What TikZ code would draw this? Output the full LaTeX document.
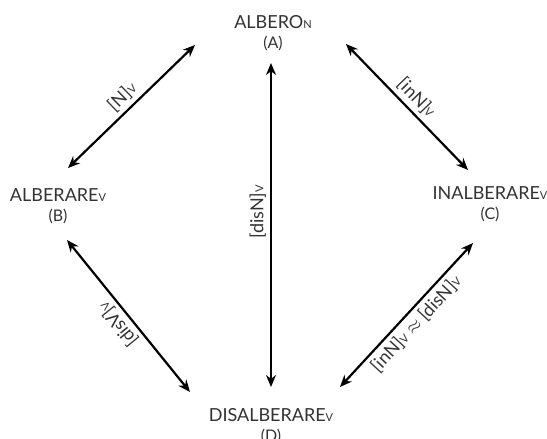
\documentclass[tikz,border=0pt]{standalone}
\usepackage{fontspec}
\setmainfont{Lato}
\usepackage{tikz}
\usetikzlibrary{positioning, arrows.meta}
\newcommand{\sub}[1]{{\fontsize{5.5}{6}\selectfont #1}}

\begin{document}
\begin{tikzpicture}[x=0.5pt,y=-0.5pt,>={Stealth[length=6pt,width=5pt]},
        word/.style={inner sep=0pt, text=black!80, font=\fontsize{9}{11}\selectfont},
        tag/.style={inner sep=0pt, text=black!80, font=\fontsize{8}{9}\selectfont},
        rel/.style={<->, line width=1.1pt},
        lab/.style={inner sep=2pt, text=black!80, font=\fontsize{9}{11}\selectfont}]
        \useasboundingbox (0,0) rectangle (547,439);
        \node[word] (A) at (273,22) {ALBERO\sub{N}};
        \node[tag, below=3.5pt of A] (a) {(A)};
        \node[word] (B) at (58,195) {ALBERARE\sub{V}};
        \node[tag, below=3.5pt of B] (b) {(B)};
        \node[word] (C) at (490,193) {INALBERARE\sub{V}};
        \node[tag, below=3.5pt of C] (c) {(C)};
        \node[word] (D) at (271,415) {DISALBERARE\sub{V}};
        \node[tag, below=3.5pt of D] (d) {(D)};
        \coordinate (AB) at (195,45);
        \coordinate (BA) at (68,168);
        \coordinate (AC) at (346,44);
        \coordinate (CA) at (468,170);
        \coordinate (AD) at (271,63);
        \coordinate (DA) at (271,387);
        \coordinate (BD) at (67,240);
        \coordinate (DB) at (190,392);
        \coordinate (CD) at (473,243);
        \coordinate (DC) at (340,387);
        \draw[rel] (BA) -- node[lab, sloped, above]{[N]\sub{V}} (AB);
        \draw[rel] (AC) -- node[lab, sloped, above]{[inN]\sub{V}} (CA);
        \draw[rel] (DA) -- node[lab, sloped, above, pos=0.54]{[disN]\sub{V}} (AD);
        \draw[rel] (DB) -- node[lab, rotate=129, anchor=south]{[disV]\sub{V}} (BD);
        \draw[rel] (DC) -- node[lab, sloped, below]{[inN]\sub{V} $\approx$ [disN]\sub{V}} (CD);
\end{tikzpicture}
\end{document}
